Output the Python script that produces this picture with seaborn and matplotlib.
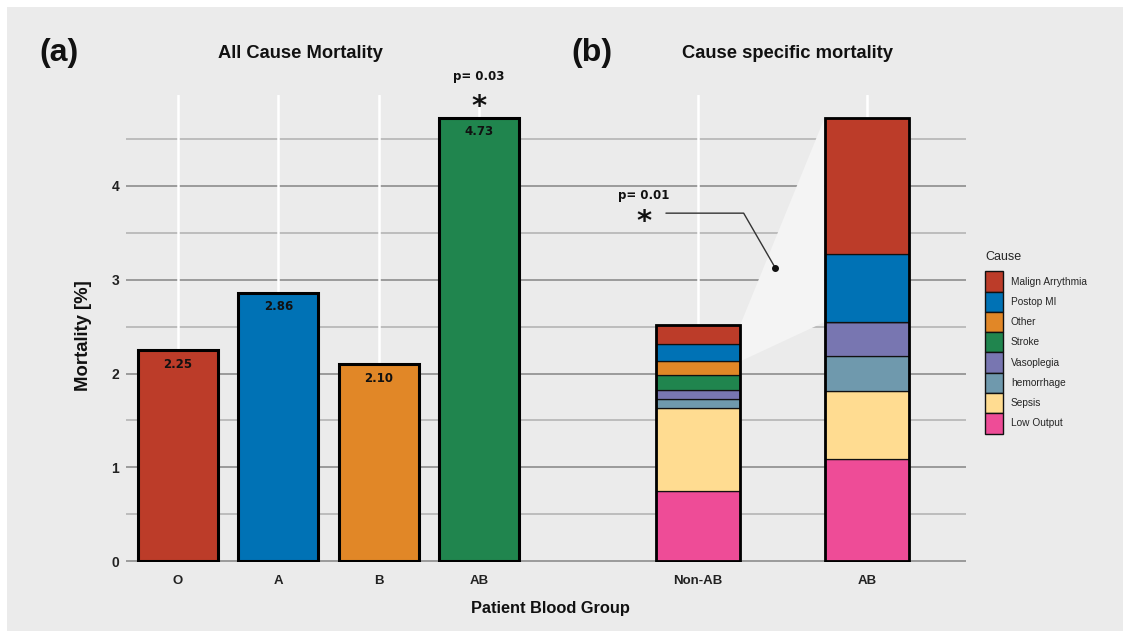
import numpy as np
import pandas as pd
import matplotlib
matplotlib.use("Agg")
import matplotlib.pyplot as plt
import seaborn as sns
from matplotlib.patches import Patch, Rectangle
from matplotlib.ticker import MultipleLocator

# ---------------- data ----------------
groups = ["O", "A", "B", "AB"]
all_cause = [2.25, 2.86, 2.10, 4.73]
group_colors = ["#BC3C29", "#0072B5", "#E18727", "#20854E"]

strata = ["Non-AB", "AB"]
causes = ["Low Output", "Sepsis", "hemorrhage", "Vasoplegia",
          "Stroke", "Other", "Postop MI", "Malign Arrythmia"]
non_ab = [0.75, 0.88, 0.10, 0.09, 0.16, 0.15, 0.18, 0.21]
ab = [1.09, 0.72, 0.38, 0.36, 0.00, 0.00, 0.72, 1.46]
cause_colors = ["#EE4C97", "#FFDC91", "#6F99AD", "#7876B1",
                "#20854E", "#E18727", "#0072B5", "#BC3C29"]
p_all = "p= 0.03"
p_cause = "p= 0.01"

# ---------------- style ----------------
sns.set_style("white")
BG = "#EBEBEB"
plt.rcParams["font.family"] = ["DejaVu Sans"]
W, H = 1125, 636
fig = plt.figure(figsize=(W / 100, H / 100), dpi=100, facecolor="white")
fig.patches.append(Rectangle((7 / W, 5 / H), 1116 / W, 624 / H,
                             transform=fig.transFigure, facecolor=BG,
                             edgecolor="none", zorder=-10))

y_bot, y_top = 562, 95
split = 560
ax1 = fig.add_axes([126 / W, (H - y_bot) / H, (split - 126) / W, (y_bot - y_top) / H])
ax2 = fig.add_axes([split / W, (H - y_bot) / H, (966 - split) / W, (y_bot - y_top) / H])

YMIN, YMAX = -0.01, 4.97
tf = ["Liberation Sans", "DejaVu Sans"]
nf = ["Liberation Sans Narrow", "Liberation Sans", "DejaVu Sans"]

# ---------------- panel a ----------------
df_a = pd.DataFrame({"group": groups, "mortality": all_cause})
sns.barplot(data=df_a, x="group", y="mortality", hue="group", order=groups,
            hue_order=groups, palette=group_colors, saturation=1, width=0.8,
            edgecolor="black", linewidth=2.2, legend=False, ax=ax1, zorder=3)
for i, v in enumerate(all_cause):
    ax1.text(i, v - 0.15, f"{v:.2f}", ha="center", va="center",
             fontsize=8.5, fontweight="bold", color="#111111", zorder=4)
ax1.text(3, 5.17, p_all, ha="center", va="center", fontsize=8.5,
         fontweight="bold", color="#111111", clip_on=False)
ax1.text(3, 4.84, "*", ha="center", va="center", fontsize=21,
         fontweight="bold", color="#111111", clip_on=False)
ax1.set_xlim(-0.518, 3.807)

# ---------------- panel b ----------------
pos = np.arange(len(strata))
bw = 0.5
stack = np.array([non_ab, ab])  # shape (strata, causes)
bottoms = np.zeros(len(strata))
for j, c in enumerate(causes):
    ax2.bar(pos, stack[:, j], bottom=bottoms, width=bw, color=cause_colors[j],
            edgecolor="#111111", linewidth=0.9, zorder=3)
    bottoms = bottoms + stack[:, j]
totals = stack.sum(axis=1)
ax2.bar(pos, totals, width=bw, fill=False, edgecolor="black", linewidth=2.0, zorder=4)

# connecting wedge between the two top segments (Postop MI + Malign Arrythmia)
k = causes.index("Postop MI")
low = stack[:, :k].sum(axis=1)
ax2.fill([pos[0] + bw / 2, pos[0] + bw / 2, pos[1] - bw / 2, pos[1] - bw / 2],
         [low[0], totals[0], totals[1], low[1]],
         facecolor="#F4F4F4", edgecolor="none", zorder=2)

# annotation
ax2.plot([-0.19, 0.27, 0.456], [3.71, 3.71, 3.13], color="#333333", lw=1.0, zorder=5)
ax2.plot([0.456], [3.13], "o", color="#111111", ms=4, zorder=5)
ax2.text(-0.32, 3.90, p_cause, ha="center", va="center", fontsize=8.5,
         fontweight="bold", color="#111111")
ax2.text(-0.32, 3.62, "*", ha="center", va="center", fontsize=21,
         fontweight="bold", color="#111111")
ax2.set_xticks(pos)
ax2.set_xticklabels(strata)
ax2.set_xlim(-0.817, 1.586)

# ---------------- common axis styling ----------------
for ax in (ax1, ax2):
    ax.set_facecolor(BG)
    ax.set_ylim(YMIN, YMAX)
    ax.yaxis.set_major_locator(MultipleLocator(1))
    ax.yaxis.set_minor_locator(MultipleLocator(0.5))
    ax.set_axisbelow(True)
    ax.grid(False)
    ax.grid(which="major", axis="y", color="#9A9A9A", lw=1.4, zorder=0.5)
    ax.grid(which="minor", axis="y", color="#AFAFAF", lw=1.1, zorder=0.5)
    for xt in ax.get_xticks():
        ax.axvline(xt, color="white", lw=1.8, zorder=1)
    for s in ax.spines.values():
        s.set_visible(False)
    ax.set_xlabel("")
    ax.set_ylabel("")
    ax.tick_params(axis="x", length=3, width=1, color="#DDDDDD", pad=6,
                   labelsize=9.5, labelcolor="#222222")
    ax.tick_params(axis="y", which="major", length=3, width=0.8, color="#666666",
                   labelsize=10, labelcolor="#222222", pad=2)
    ax.tick_params(axis="y", which="minor", length=0)
    for lab in ax.get_xticklabels():
        lab.set_fontweight("bold")
        lab.set_family(nf)
    for lab in ax.get_yticklabels():
        lab.set_fontweight("bold")
        lab.set_family(tf)

ax2.tick_params(axis="y", which="both", left=False, labelleft=False)

# ---------------- titles and labels ----------------
fig.text(300 / W, 1 - 53 / H, "All Cause Mortality", ha="center", va="center",
         fontsize=13.2, fontweight="bold", family=tf, color="#111111")
fig.text(788 / W, 1 - 53 / H, "Cause specific mortality", ha="center", va="center",
         fontsize=13.2, fontweight="bold", family=tf, color="#111111")
fig.text(59 / W, 1 - 53 / H, "(a)", ha="center", va="center",
         fontsize=23, fontweight="bold", family=tf, color="#111111")
fig.text(592 / W, 1 - 53 / H, "(b)", ha="center", va="center",
         fontsize=23, fontweight="bold", family=tf, color="#111111")
fig.text(83 / W, 1 - 336 / H, "Mortality [%]", ha="center", va="center",
         rotation=90, fontsize=13.3, fontweight="bold", family=tf, color="#111111")
fig.text(550 / W, 1 - 608 / H, "Patient Blood Group", ha="center", va="center",
         fontsize=11.8, fontweight="bold", family=tf, color="#111111")

# ---------------- legend ----------------
handles = [Patch(facecolor=cause_colors[j], edgecolor="#111111", linewidth=1.0)
           for j in range(len(causes))][::-1]
labels = causes[::-1]
leg = fig.legend(handles, labels, title="Cause", loc="upper left",
                 bbox_to_anchor=(983 / W, 1 - 249 / H), frameon=False,
                 prop={"family": tf, "size": 7.3},
                 title_fontproperties={"family": tf, "size": 9},
                 handlelength=1.75, handleheight=2.7, labelspacing=0.0,
                 handletextpad=0.8, borderaxespad=0, borderpad=0.2)
leg._legend_box.align = "left"
leg._legend_box.sep = 6

fig.savefig("out.png", dpi=100, facecolor="white")
